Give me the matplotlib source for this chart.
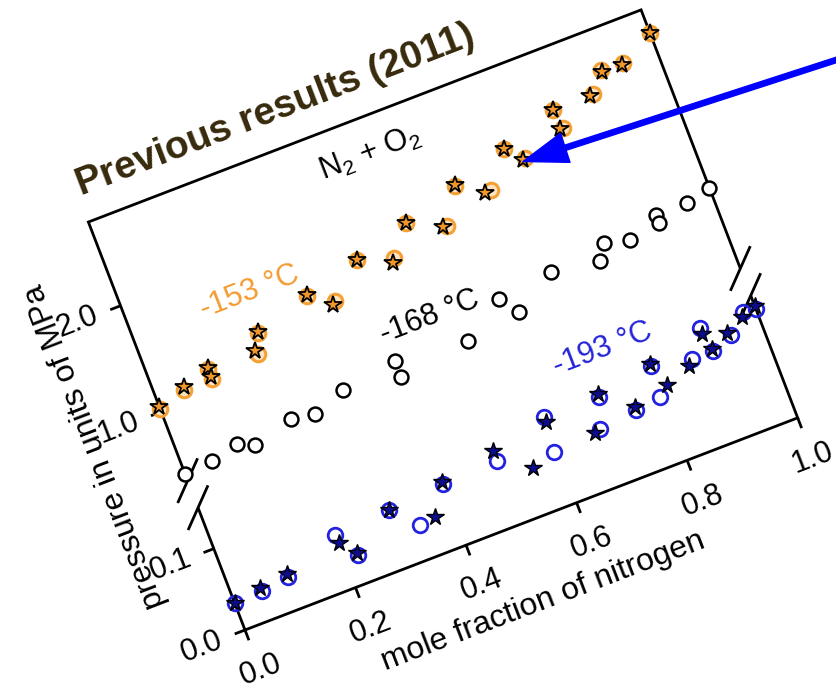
import numpy as np
import matplotlib
matplotlib.use('Agg')
import matplotlib.pyplot as plt
import matplotlib.transforms as mtransforms

plt.rcParams['font.family'] = ['Liberation Sans', 'DejaVu Sans']
plt.rcParams['mathtext.fontset'] = 'custom'
plt.rcParams['mathtext.rm'] = 'Liberation Sans'
plt.rcParams['mathtext.it'] = 'Liberation Sans:italic'

# -153 C (orange): open circles and stars
orange_circ_x = [0.00, 0.05, 0.10, 0.10, 0.20, 0.188, 0.30, 0.341, 0.40, 0.46, 0.50,
                 0.563, 0.60, 0.654, 0.70, 0.727, 0.80, 0.805, 0.873, 0.90, 0.94, 1.00]
orange_circ_p = [1.03, 1.11, 1.20, 1.11, 1.34, 1.17, 1.49, 1.36, 1.63, 1.53, 1.78,
                 1.63, 1.93, 1.78, 2.08, 1.94, 2.25, 2.07, 2.25, 2.42, 2.41, 2.57]
orange_star_x = [0.00, 0.05, 0.10, 0.10, 0.20, 0.185, 0.30, 0.335, 0.40, 0.455, 0.50,
                 0.557, 0.60, 0.643, 0.70, 0.723, 0.80, 0.80, 0.867, 0.90, 0.936, 1.00]
orange_star_p = [1.05, 1.13, 1.21, 1.13, 1.35, 1.20, 1.50, 1.34, 1.63, 1.49, 1.78,
                 1.63, 1.94, 1.78, 2.08, 1.93, 2.25, 2.07, 2.24, 2.40, 2.40, 2.57]

# -168 C (black open circles)
black_x = [0.00, 0.05, 0.10, 0.128, 0.20, 0.242, 0.30, 0.40, 0.40, 0.527,
           0.60, 0.625, 0.70, 0.783, 0.80, 0.843, 0.90, 0.90, 0.955, 1.00]
black_p = [0.41, 0.44, 0.50, 0.43, 0.53, 0.50, 0.61, 0.68, 0.53, 0.61,
           0.86, 0.69, 0.92, 0.86, 0.99, 0.93, 1.06, 0.98, 1.06, 1.11]

# -193 C (blue): open circles and dark stars
blue_circ_x = [0.00, 0.05, 0.10, 0.20, 0.223, 0.30, 0.34, 0.40, 0.50, 0.595, 0.60,
               0.681, 0.70, 0.75, 0.795, 0.80, 0.869, 0.90, 0.907, 0.945, 0.978, 1.00]
blue_circ_p = [0.033, 0.035, 0.039, 0.065, 0.034, 0.069, 0.0405, 0.075, 0.077, 0.064, 0.106,
               0.069, 0.104, 0.075, 0.079, 0.116, 0.107, 0.136, 0.106, 0.116, 0.136, 0.134]
blue_star_x = [0.00, 0.049, 0.10, 0.20, 0.223, 0.30, 0.368, 0.40, 0.50, 0.553, 0.60,
               0.671, 0.70, 0.75, 0.813, 0.80, 0.86, 0.90, 0.906, 0.94, 0.973, 1.00]
blue_star_p = [0.033, 0.0385, 0.043, 0.0545, 0.037, 0.069, 0.043, 0.078, 0.090, 0.055, 0.099,
               0.0675, 0.108, 0.078, 0.089, 0.119, 0.100, 0.129, 0.109, 0.1205, 0.131, 0.137]

xticks = [0.0, 0.2, 0.4, 0.6, 0.8, 1.0]
yticks = [0.0, 0.1, 1.0, 2.0]

# geometry of the tilted, broken frame (pixels)
W, H = 592, 437
ANG = 21
X0, Y0 = 245, 630
V_LOW, V_UP = 131, 160


def to_v(p):
    # broken pressure axis: 0-0.15 MPa below the break, 0.35-2.8 MPa above
    p = np.asarray(p, dtype=float)
    return np.where(p <= 0.2, p * 871.0, 233.7 + (p - 1.0) * 113.6)


fig = plt.figure(figsize=(8.36, 6.87), dpi=100)
ax = fig.add_axes([0, 0, 1, 1])
ax.set_xlim(0, 836)
ax.set_ylim(687, 0)
ax.axis('off')

T = mtransforms.Affine2D().scale(W, 1).rotate_deg(ANG).scale(1, -1).translate(X0, Y0) + ax.transData

kw = dict(color='black', lw=2.0, transform=T, clip_on=False, solid_capstyle='butt')
ax.plot([0, 0, 1, 1], [V_LOW, 0, 0, V_LOW], solid_joinstyle='miter', **kw)
ax.plot([0, 0, 1, 1], [V_UP, H, H, V_UP], solid_joinstyle='miter', **kw)

# axis break marks
for xc in (0, 1):
    for vc in (V_LOW, V_UP):
        ax.plot([xc - 17.3 / W, xc + 17.3 / W], [vc - 17.3, vc + 17.3], **kw)

# ticks and tick labels
for xt in xticks:
    ax.plot([xt, xt], [0, -11], **kw)
    ax.text(xt, -43, f'{xt:.1f}', transform=T, rotation=ANG, rotation_mode='anchor',
            ha='center', va='center', fontsize=22)
for yt in yticks:
    v = float(to_v(yt))
    ax.plot([0, -11 / W], [v, v], **kw)
    ax.text(-46 / W, v, f'{yt:.1f}', transform=T, rotation=ANG, rotation_mode='anchor',
            ha='center', va='center', fontsize=22)

ax.text(0.488, -80, 'mole fraction of nitrogen', transform=T, rotation=ANG,
        rotation_mode='anchor', ha='center', va='center', fontsize=23)
ax.text(-74 / W, 225, 'pressure in units of MPa', transform=T, rotation=ANG + 90,
        rotation_mode='anchor', ha='center', va='center', fontsize=23)

# data
ax.plot(black_x, to_v(black_p), 'o', ms=10, mfc='white', mec='black', mew=1.8,
        transform=T, clip_on=False)
ax.plot(orange_circ_x, to_v(orange_circ_p), 'o', ms=10.5, mfc='#fde3c0', mec='#f5a033', mew=2.2,
        transform=T, clip_on=False)
ax.plot(orange_star_x, to_v(orange_star_p), '*', ms=13, mfc='#f0962a', mec='black', mew=1.3,
        transform=T, clip_on=False)
ax.plot(blue_circ_x, to_v(blue_circ_p), 'o', ms=10.5, mfc='none', mec='#2222e0', mew=2.0,
        transform=T, clip_on=False)
ax.plot(blue_star_x, to_v(blue_star_p), '*', ms=13, mfc='#0c0c8c', mec='black', mew=1.0,
        transform=T, clip_on=False)

# series labels
ax.text(0.211, 314, '-153 °C', transform=T, rotation=ANG, rotation_mode='anchor',
        ha='center', va='center', fontsize=22, color='#f39c33')
ax.text(0.48, 226, '-168 °C', transform=T, rotation=ANG, rotation_mode='anchor',
        ha='center', va='center', fontsize=22, color='black')
ax.text(0.734, 134, '-193 °C', transform=T, rotation=ANG, rotation_mode='anchor',
        ha='center', va='center', fontsize=22, color='#2323d8')
ax.text(0.486, 400, 'N$_2$ + O$_2$', transform=T, rotation=ANG, rotation_mode='anchor',
        ha='center', va='center', fontsize=22)

ax.text(0.005, 464, 'Previous results (2011)', transform=T, rotation=ANG,
        rotation_mode='anchor', ha='left', va='baseline', fontsize=28,
        fontweight='bold', color='#372a0c')

ax.annotate('', xy=(523, 161.5), xytext=(850, 55.5),
            arrowprops=dict(color='#0000ff', width=3.8, headwidth=22,
                            headlength=32, shrink=0))

fig.savefig('out.png', dpi=100)
